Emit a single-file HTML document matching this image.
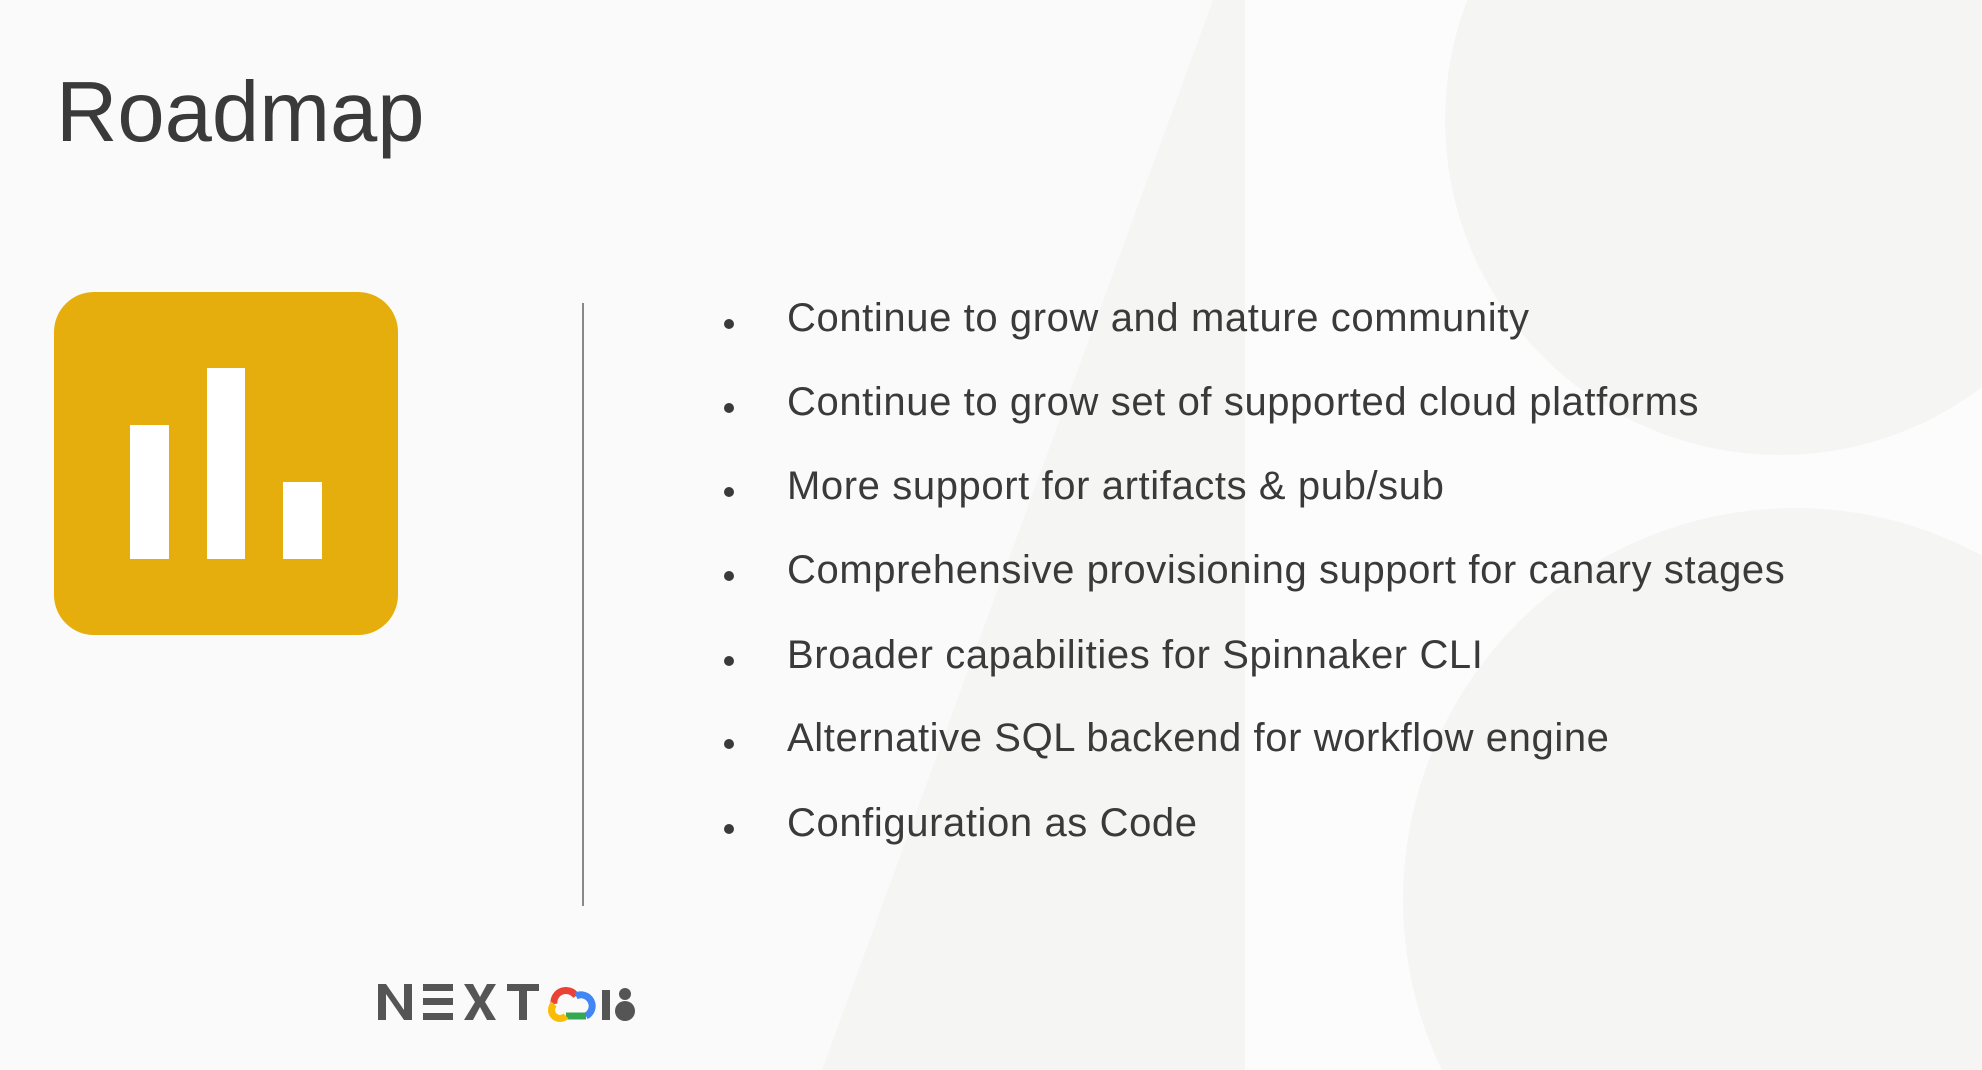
<!DOCTYPE html>
<html><head><meta charset="utf-8"><style>
html,body{margin:0;padding:0;overflow:hidden;height:1070px}
body{width:1982px;height:1070px;position:relative;overflow:hidden;background:#fafafa;font-family:"Liberation Sans",sans-serif;color:#3c3c3c}
.abs{position:absolute}
svg{display:block}
.t{position:absolute;left:787px;font-size:40px;white-space:nowrap;line-height:1;color:#3a3a3a;letter-spacing:0.6px}
.b{position:absolute;left:724px;width:10px;height:10px;border-radius:50%;background:#3a3a3a}
</style></head><body>
<svg class="abs" style="left:0;top:0" width="1982" height="1070">
<rect x="1245" y="0" width="737" height="1070" fill="#fcfcfc"/>
<polygon points="822,1070 1213,0 1245,0 1245,1070" fill="#f5f5f4"/>
<circle cx="1780" cy="120" r="335" fill="#f5f5f4"/>
<circle cx="1795" cy="900" r="392" fill="#f5f5f4"/>
</svg>
<div class="abs" style="left:56px;top:70px;font-size:85px;line-height:1;color:#3a3a3a">Roadmap</div>
<div class="abs" style="left:54px;top:292px;width:344px;height:343px;border-radius:40px;background:#e6ae0c"></div>
<div class="abs" style="left:130px;top:425px;width:39px;height:134px;background:#fff"></div>
<div class="abs" style="left:207px;top:368px;width:38px;height:191px;background:#fff"></div>
<div class="abs" style="left:283px;top:482px;width:39px;height:77px;background:#fff"></div>
<div class="abs" style="left:582px;top:303px;width:2px;height:603px;background:#888"></div>

<div class="b" style="top:319px"></div><div class="t" style="top:298px">Continue to grow and mature community</div>
<div class="b" style="top:403px"></div><div class="t" style="top:382px">Continue to grow set of supported cloud platforms</div>
<div class="b" style="top:487px"></div><div class="t" style="top:466px">More support for artifacts &amp; pub/sub</div>
<div class="b" style="top:571px"></div><div class="t" style="top:550px">Comprehensive provisioning support for canary stages</div>
<div class="b" style="top:656px"></div><div class="t" style="top:635px">Broader capabilities for Spinnaker CLI</div>
<div class="b" style="top:739px"></div><div class="t" style="top:718px">Alternative SQL backend for workflow engine</div>
<div class="b" style="top:824px"></div><div class="t" style="top:803px">Configuration as Code</div>

<svg class="abs" style="left:376px;top:982px" width="265" height="42" viewBox="0 0 265 42">
<g fill="#555">
<polygon points="2,2 10,2 28,28 28,2 36,2 36,38 28,38 10,12 10,38 2,38"/>
<rect x="47" y="2" width="30" height="7"/><rect x="47" y="16" width="30" height="7"/><rect x="47" y="31" width="30" height="7"/>
<polygon points="88,2 97,2 104,15 111,2 120,2 109,20 120,38 111,38 104,25 97,38 88,38 99,20"/>
<rect x="131" y="2" width="32" height="7"/><rect x="143" y="2" width="8" height="36"/>
<rect x="226" y="8" width="8" height="30"/>
<circle cx="249" cy="29" r="10"/><circle cx="249" cy="12" r="6"/>
</g>
<path d="M178,22 a12,12 0 0 1 22,-8" stroke="#ea4335" stroke-width="7" fill="none"/>
<path d="M200,14 a10,10 0 0 1 10,20" stroke="#4285f4" stroke-width="7" fill="none"/>
<path d="M210,34 L190,34" stroke="#34a853" stroke-width="7" fill="none"/>
<path d="M190,34 a8,8 0 0 1 -12,-12" stroke="#fbbc05" stroke-width="7" fill="none"/>
</svg>
</body></html>
